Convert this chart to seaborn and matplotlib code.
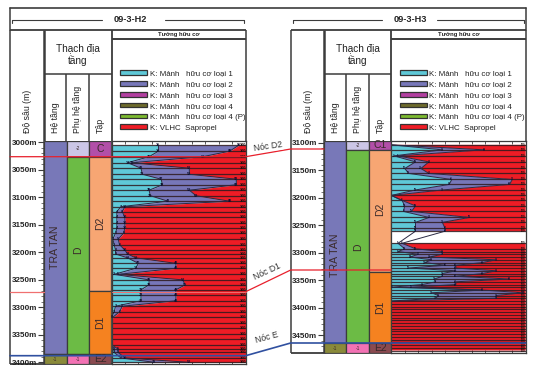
import numpy as np
import matplotlib
matplotlib.use("Agg")
import matplotlib.pyplot as plt
from matplotlib.patches import Rectangle, Patch
import seaborn as sns

sns.set_style("white")
plt.rcParams['font.family'] = ['Liberation Sans', 'DejaVu Sans']

W, H = 538, 370

# --- data: sample depth (m), top of kerogen 1, top of kerogen 2 (cumulative %)
h2_depth = [3005, 3016, 3026, 3037, 3047, 3058, 3067, 3077, 3087, 3097, 3107, 3117, 3126, 3136, 3146, 3156, 3165, 3176, 3186,
            3196, 3203, 3210, 3220, 3229, 3240, 3250, 3259, 3268, 3277, 3288, 3298, 3308, 3318, 3328, 3338, 3348, 3358, 3368,
            3376, 3382, 3392, 3400]
h2_k1 = [35, 35, 28, 12, 22, 23, 37, 38, 28, 29, 42, 7, 4, 4, 4, 4, 3, 1, 2,
         3, 3, 12, 20, 18, 2, 28, 28, 22, 22, 22, 3, 2, 0, 0, 0, 0, 0, 0,
         2, 2, 7, 32]
h2_k2 = [95, 88, 68, 15, 58, 58, 93, 93, 58, 63, 88, 10, 8, 10, 10, 10, 9, 5, 6,
         10, 12, 18, 48, 48, 5, 53, 55, 48, 48, 48, 8, 6, 1, 0, 0, 0, 0, 0,
         5, 5, 10, 58]

h3_depth = [3104, 3113, 3124, 3135, 3147, 3156, 3167, 3176, 3186, 3196, 3205, 3215, 3225, 3236, 3245, 3256, 3261, 3268,
            3283, 3293, 3298, 3303, 3308, 3313, 3318, 3323, 3328, 3333, 3338, 3343, 3348, 3353, 3358, 3363, 3368, 3373, 3378, 3383, 3388,
            3393, 3398, 3403, 3408, 3413, 3418, 3423, 3428, 3433, 3438, 3443, 3448, 3453, 3458, 3463, 3468, 3473, 3478]
h3_k1 = [0, 38, 2, 18, 10, 13, 45, 43, 18, 0, 8, 10, 9, 28, 18, 18, 18, np.nan,
         5, 10, 5, 20, 14, 30, 25, 40, 13, 48, 38, 38, 32, 33, 23, 0, 68, 30, 35, 33, 0,
         0, 0, 0, 0, 0, 0, 0, 0, 0, 0, 0, 0, 0, 0, 0, 0, 0, 0]
h3_k2 = [0, 69, 5, 28, 22, 28, 90, 88, 38, 0, 8, 18, 15, 58, 38, 40, 40, np.nan,
         8, 18, 38, 38, 28, 78, 68, 48, 48, 78, 68, 48, 88, 48, 48, 15, 68, 98, 78, 78, 0,
         0, 0, 0, 0, 0, 0, 0, 0, 0, 0, 0, 0, 0, 0, 0, 0, 0, 0]

legend_labels = ["K: Mảnh   hữu cơ loại 1", "K: Mảnh   hữu cơ loại 2", "K: Mảnh   hữu cơ loại 3",
                 "K: Mảnh   hữu cơ loại 4", "K: Mảnh   hữu cơ loại 4 (P)", "K: VLHC  Sapropel"]
legend_colors = ["#5fc9d8", "#7777b9", "#b23fa0", "#6d6a2c", "#7cba2f", "#ee1c25"]

# formation tops: (top depth, bottom depth, colour, label, label depth)
h2_system = [(2998, 3385, "#7878b8", "TRA TAN", 3190), (3385, 3403, "#8a8a3a", "-1", 3394)]
h2_sub = [(2998, 3026, "#cbc6e6", "-2", 3012), (3026, 3385, "#6cbb45", "D", 3197), (3385, 3403, "#f272b4", "-1", 3394)]
h2_set = [(2998, 3026, "#b24fa8", "C", 3012), (3026, 3270, "#f7a673", "D2", 3148),
          (3270, 3385, "#f58220", "D1", 3328), (3385, 3403, "#8a4a50", "E2", 3394)]
h3_system = [(3097, 3465, "#7878b8", "TRA TAN", 3305), (3465, 3483, "#8a8a3a", "-1", 3474)]
h3_sub = [(3097, 3113, "#cbc6e6", "-2", 3105), (3113, 3465, "#6cbb45", "D", 3290), (3465, 3483, "#f272b4", "-1", 3474)]
h3_set = [(3097, 3113, "#b24fa8", "C1", 3105), (3113, 3335, "#f7a673", "D2", 3222),
          (3335, 3465, "#f58220", "D1", 3400), (3465, 3483, "#8a4a50", "E2", 3474)]

fig = plt.figure(figsize=(W / 100, H / 100), dpi=100)
bg = fig.add_axes([0, 0, 1, 1])
bg.set_xlim(0, W); bg.set_ylim(H, 0); bg.axis("off")
GR = "#3c3c3c"


def panel(x0, x_c, x_f, x_end, y_end, dtop, dbot, ticks, depth, k1, k2, sys_, sub, set_, title, tx, br, lab100):
    for xs, ys, lw in [((x0, x0), (30, y_end), 1.1), ((x_c[0], x_c[0]), (30, y_end), 1.8),
                       ((x_c[1], x_c[1]), (74, y_end), 1.1), ((x_c[2], x_c[2]), (74, y_end), 1.1),
                       ((x_f, x_f), (30, y_end), 1.3), ((x_end, x_end), (30, y_end), 1.1),
                       ((x0, x_end), (30, 30), 1.3), ((x_c[0], x_f), (74, 74), 1.1),
                       ((x_f, x_end), (39, 39), 1.4), ((x0, x_end), (y_end, y_end), 1.3)]:
        bg.plot(xs, ys, color=GR, lw=lw, solid_capstyle="butt")
    bg.text(tx, 19.5, title, ha="center", va="center", fontsize=6.6, fontweight="bold", color="#222")
    for a, b in br:
        bg.plot([a, b], [19.5, 19.5], color=GR, lw=0.8)
    bg.plot([br[0][0]] * 2, [19.5, 22.5], color=GR, lw=0.8)
    bg.plot([br[1][1]] * 2, [19.5, 22.5], color=GR, lw=0.8)
    bg.text((x_f + x_end) / 2, 34.7, "Tướng hữu cơ", ha="center", va="center", fontsize=4.2, fontweight="bold", color="#222")
    bg.text((x_c[0] + x_f) / 2, 54.5, "Thạch địa\ntầng", ha="center", va="center", fontsize=7.2, color="#222", linespacing=1.15)
    bg.text(x0 + 18, 133, "Độ sâu (m)", rotation=90, ha="center", va="bottom", fontsize=6.3, color="#222")
    w = (x_f - x_c[0]) / 3
    bg.text(x_c[0] + w / 2, 133, "Hệ tầng", rotation=90, ha="center", va="bottom", fontsize=6.3, color="#222")
    bg.text(x_c[0] + 1.5 * w, 133, "Phụ hệ tầng", rotation=90, ha="center", va="bottom", fontsize=6.3, color="#222")
    bg.text(x_c[0] + 2.5 * w, 133, "Tập", rotation=90, ha="center", va="bottom", fontsize=6.3, color="#222")

    def rect(x, w_):
        return [x / W, 1 - y_end / H, w_ / W, (y_end - 141) / H]

    st = fig.add_axes(rect(x_c[0], x_f - x_c[0]))
    st.set_xlim(0, 3); st.set_ylim(dbot, dtop)
    st.set_xticks([])
    st.set_yticks(ticks)
    st.set_yticks(np.arange(dtop + (10 - dtop % 10) % 10, dbot, 10), minor=True)
    st.set_yticklabels([f"{t}m" for t in ticks], fontsize=5.8, fontweight="bold", color="#222")
    st.tick_params(axis="y", which="major", left=True, length=4, width=0.8, pad=0.8, color=GR)
    st.tick_params(axis="y", which="minor", left=True, length=2, width=0.5, color=GR)
    for s in st.spines.values():
        s.set_visible(False)
    for i, col in enumerate([sys_, sub, set_]):
        for top, bot, c, lab, ym in col:
            st.add_patch(Rectangle((i, top), 1, bot - top, fc=c, ec=GR, lw=0.9))
            big = lab[0] in "DCE"
            rot = 90 if lab in ("TRA TAN", "D", "D1", "D2") else 0
            st.text(i + .5, ym, lab, rotation=rot, ha="center", va="center",
                    fontsize=7.6 if lab == "TRA TAN" else (7.5 if big else 3.5), color="#3a2a2a")

    ax = fig.add_axes(rect(x_f, x_end - x_f))
    ax.set_xlim(0, 100); ax.set_ylim(dbot, dtop)
    d, a, b = np.array(depth, float), np.array(k1, float), np.array(k2, float)
    ax.fill_betweenx(d, 0, a, color=legend_colors[0], lw=0)
    ax.fill_betweenx(d, a, b, color=legend_colors[1], lw=0)
    ax.fill_betweenx(d, b, 100, color=legend_colors[5], lw=0)
    ok = ~np.isnan(a)
    ax.hlines(d[ok], 0, 100, color="#2e1a1e", lw=0.9, alpha=0.85)
    sns.lineplot(x=a, y=d, orient="y", sort=False, estimator=None, color="#2a2a44", lw=0.7, ax=ax, legend=False)
    sns.lineplot(x=b, y=d, orient="y", sort=False, estimator=None, color="#2a2a44", lw=0.7, ax=ax, legend=False)
    for yy, p, q in zip(d[ok], a[ok], b[ok]):
        ax.text(98.3, yy, "100", fontsize=lab100, fontweight="bold", ha="center", va="center", color="#201010")
        if q > 0:
            ax.text(p, yy, f"{p:.0f}", fontsize=lab100, fontweight="bold", ha="center", va="center", color="#101030")
            if abs(q - p) > 2.5:
                ax.text(q, yy, f"{q:.0f}", fontsize=lab100, fontweight="bold", ha="center", va="center", color="#101030")
    ax.set_xticks(np.arange(0, 101, 10)); ax.set_xticklabels([]); ax.set_yticks([])
    ax.tick_params(axis="x", which="major", direction="in", top=True, bottom=True, length=2.5, width=0.6, color=GR)
    for s in ax.spines.values():
        s.set_color(GR); s.set_linewidth(0.9)
    ax.set_ylabel(""); ax.set_xlabel("")

    handles = [Patch(fc=c, ec="#333", lw=0.9) for c in legend_colors]
    fig.legend(handles, legend_labels, loc="upper left",
               bbox_to_anchor=((x_f + 8.5) / W, 1 - 70.5 / H), frameon=False, fontsize=5.7,
               handlelength=3.4, handleheight=0.5, handletextpad=0.35, labelspacing=0.47,
               borderpad=0, borderaxespad=0, labelcolor="#222")


panel(10, (44, 66.4, 88.8), 111.5, 245.7, 364, 2997.5, 3403,
      [3000, 3050, 3100, 3150, 3200, 3250, 3300, 3350, 3400],
      h2_depth, h2_k1, h2_k2, h2_system, h2_sub, h2_set, "09-3-H2", 130, [(12, 102), (165, 243.5)], 2.8)
panel(290.7, (324, 346.4, 368.8), 391.3, 525.7, 353, 3097, 3482.5,
      [3100, 3150, 3200, 3250, 3300, 3350, 3400, 3450],
      h3_depth, h3_k1, h3_k2, h3_system, h3_sub, h3_set, "09-3-H3", 410, [(293, 382), (437, 524)], 1.9)

ov = fig.add_axes([0, 0, 1, 1], zorder=10)
ov.set_xlim(0, W); ov.set_ylim(H, 0); ov.axis("off"); ov.patch.set_alpha(0)
ov.plot([10, 525.7], [8.3, 8.3], color=GR, lw=1.2)
ov.plot([10, 10], [8, 30], color=GR, lw=1.1)
ov.plot([525.7, 525.7], [8, 30], color=GR, lw=1.1)

RED, RED2, BLUE = "#e8202c", "#f07070", "#3050a0"
for (xs, ys, c, lw) in [((10, 245.7, 290.7, 324), (156.7, 156.7, 149, 149), RED, 0.9),
                        ((10, 44), (291.7, 291.7), RED2, 0.9), ((111.5, 245.7), (291.7, 291.7), RED2, 0.7),
                        ((245.7, 290.7, 391.3), (291.7, 270, 270), RED, 0.9),
                        ((10, 245.7, 290.7, 525.7), (355.7, 355.7, 343, 343), BLUE, 1.2)]:
    ov.plot(xs, ys, color=c, lw=lw)
for t, x, y, r in [("Nóc D2", 268, 146.5, 8), ("Nóc D1", 267, 272, 25), ("Nóc E", 267, 338, 15)]:
    ov.text(x, y, t, rotation=r, ha="center", va="center", fontsize=6.2, color="#333",
            bbox=dict(fc="white", ec="none", pad=0.4))

fig.savefig("out.png", dpi=100)
